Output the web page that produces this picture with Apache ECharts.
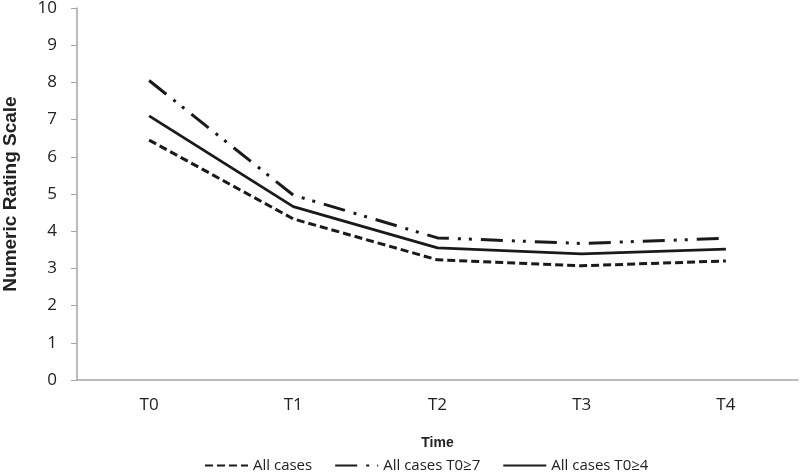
<!DOCTYPE html>
<html>
<head>
<meta charset="utf-8">
<script src="https://cdn.jsdelivr.net/npm/echarts@6/dist/echarts.min.js"></script>
<style>
  html, body { margin: 0; padding: 0; background: #fff; }
  #chart { width: 800px; height: 474px; }
</style>
</head>
<body>
<div id="chart"></div>
<script>
const categories = ['T0', 'T1', 'T2', 'T3', 'T4']
const allCases = [6.45, 4.33, 3.23, 3.07, 3.2]
const allCasesT0ge7 = [8.05, 4.97, 3.82, 3.67, 3.81]
const allCasesT0ge4 = [7.1, 4.66, 3.55, 3.39, 3.52]
const yTicks = [0, 10, 1]

const chart = echarts.init(document.getElementById('chart'))
const font = 'Open Sans, sans-serif'
const axisColor = '#a6a6a6'

chart.setOption({
  animation: false,
  backgroundColor: '#fff',
  grid: { left: 77, right: 2, top: 8, bottom: 94, outerBoundsMode: 'none' },
  legend: {
    top: 453,
    left: 199,
    itemWidth: 43,
    itemHeight: 16,
    itemGap: 22,
    itemStyle: { opacity: 0 },
    textStyle: { color: '#222', fontSize: 15, fontFamily: font },
    data: ['All cases', 'All cases T0≥7', 'All cases T0≥4'],
  },
  xAxis: {
    type: 'category',
    data: categories,
    name: 'Time',
    nameLocation: 'middle',
    nameGap: 56,
    nameTextStyle: { fontWeight: 'bold', fontSize: 14, color: '#222', fontFamily: 'Liberation Sans, Arial' },
    axisLine: { lineStyle: { color: axisColor, width: 1.5 } },
    axisTick: { length: 5, lineStyle: { color: axisColor } },
    axisLabel: { color: '#222', fontSize: 17, fontFamily: font, margin: 17 },
  },
  yAxis: {
    type: 'value',
    min: yTicks[0],
    max: yTicks[1],
    interval: yTicks[2],
    name: 'Numeric Rating Scale',
    nameLocation: 'middle',
    nameGap: 57,
    nameTextStyle: { fontWeight: 'bold', fontSize: 19, color: '#222', fontFamily: 'Liberation Sans, Arial' },
    axisLine: { show: true, lineStyle: { color: axisColor, width: 1.5 } },
    axisTick: { show: true, length: 6, lineStyle: { color: axisColor } },
    splitLine: { show: false },
    axisLabel: { color: '#222', fontSize: 17, fontFamily: font, margin: 20 },
  },
  series: [
    {
      name: 'All cases',
      type: 'line',
      data: allCases,
      symbol: 'none',
      lineStyle: { color: '#1a1a1a', width: 3, type: [8, 4] },
      itemStyle: { color: '#1a1a1a' },
    },
    {
      name: 'All cases T0≥7',
      type: 'line',
      data: allCasesT0ge7,
      symbol: 'none',
      lineStyle: { color: '#1a1a1a', width: 3, type: [22, 9, 3, 8, 3, 9] },
      itemStyle: { color: '#1a1a1a' },
    },
    {
      name: 'All cases T0≥4',
      type: 'line',
      data: allCasesT0ge4,
      symbol: 'none',
      lineStyle: { color: '#1a1a1a', width: 2.8 },
      itemStyle: { color: '#1a1a1a' },
    },
  ],
})
</script>
</body>
</html>
